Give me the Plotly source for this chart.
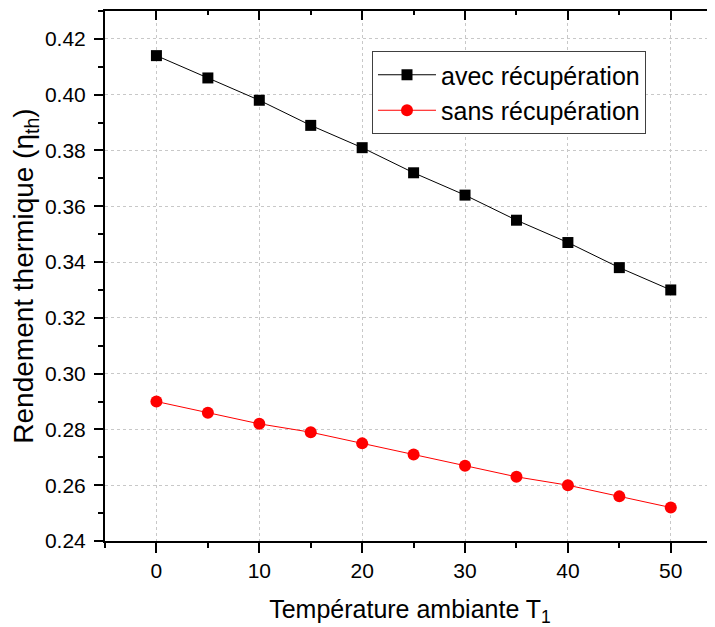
import plotly.graph_objects as go

temperature = [0, 5, 10, 15, 20, 25, 30, 35, 40, 45, 50]
avec_recuperation = [0.414, 0.406, 0.398, 0.389, 0.381, 0.372, 0.364, 0.355, 0.347, 0.338, 0.330]
sans_recuperation = [0.290, 0.286, 0.282, 0.279, 0.275, 0.271, 0.267, 0.263, 0.260, 0.256, 0.252]

FONT = "Liberation Sans, Arial, sans-serif"

fig = go.Figure()
fig.add_trace(go.Scatter(
    x=temperature, y=avec_recuperation, name="avec récupération",
    mode="lines+markers",
    line=dict(color="black", width=1),
    marker=dict(symbol="square", size=11, color="black"),
))
fig.add_trace(go.Scatter(
    x=temperature, y=sans_recuperation, name="sans récupération",
    mode="lines+markers",
    line=dict(color="red", width=1),
    marker=dict(symbol="circle", size=12, color="red"),
))
# helper trace for the mirrored top axis
fig.add_trace(go.Scatter(x=[], y=[], xaxis="x2", showlegend=False, hoverinfo="skip"))

grid = dict(showgrid=True, gridcolor="#c8c8c8", gridwidth=1, griddash="3px,3px")

# page body has an 8px margin: figure sized/placed to compensate
fig.update_layout(
    width=707, height=619,
    margin=dict(l=97, r=0, t=3, b=86),
    paper_bgcolor="white", plot_bgcolor="white",
    font=dict(family=FONT, color="black", size=21),
    xaxis=dict(
        range=[-5, 54.3], dtick=10, tick0=0,
        ticks="outside", ticklen=10, tickwidth=2, tickcolor="black",
        minor=dict(dtick=5, ticks="outside", ticklen=5, tickwidth=2, tickcolor="black", showgrid=False),
        showline=True, linecolor="black", linewidth=2,
        zeroline=False, automargin=False,
        tickfont=dict(size=21),
        title=dict(text="Température ambiante T<sub>1</sub>", font=dict(size=25), standoff=29),
        **grid,
    ),
    xaxis2=dict(
        overlaying="x", side="top", matches="x",
        range=[-5, 54.3], dtick=10, tick0=0,
        ticks="inside", ticklen=9, tickwidth=2, tickcolor="black",
        minor=dict(dtick=5, ticks="inside", ticklen=4, tickwidth=2, tickcolor="black"),
        showline=True, linecolor="black", linewidth=2, automargin=False,
        showticklabels=False, showgrid=False, zeroline=False,
    ),
    yaxis=dict(
        range=[0.24, 0.43], dtick=0.02, tick0=0.24, tickformat=".2f",
        ticks="outside", ticklen=9, tickwidth=2, tickcolor="black",
        minor=dict(dtick=0.01, ticks="outside", ticklen=5, tickwidth=2, tickcolor="black", showgrid=False),
        showline=True, linecolor="black", linewidth=2,
        zeroline=False, automargin=False, ticklabelstandoff=4,
        tickfont=dict(size=21),
        title=dict(text="Rendement thermique (η<sub>th</sub>)", font=dict(size=28), standoff=10),
        **grid,
    ),
    legend=dict(
        x=0.4377, y=0.9245, xanchor="left", yanchor="top",
        bgcolor="white", bordercolor="#404040", borderwidth=1,
        font=dict(size=25), tracegroupgap=0, itemwidth=58,
    ),
    showlegend=True,
)

fig.write_html("out.html")
